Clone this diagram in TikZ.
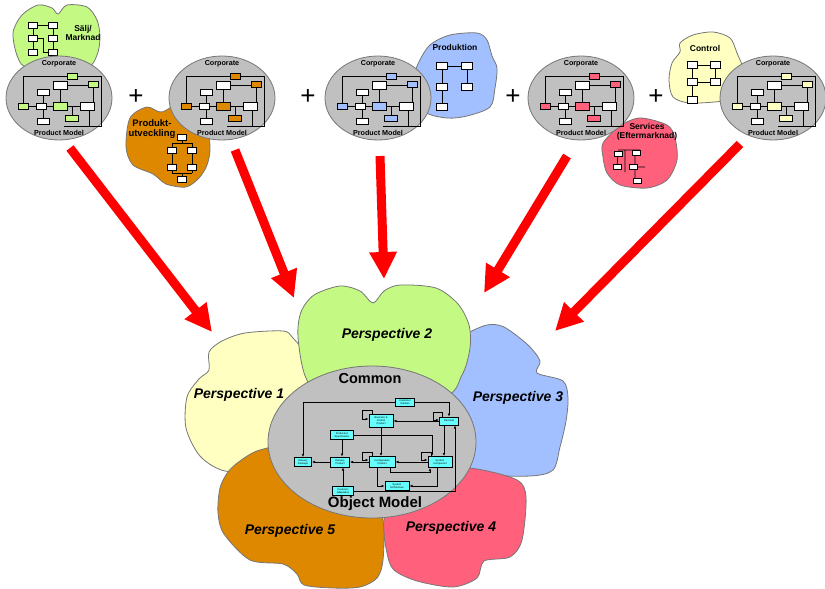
\documentclass[tikz,border=0pt]{standalone}
\usepackage{fontspec}
\setmainfont{Liberation Sans}
\usetikzlibrary{shapes.geometric,arrows.meta,calc,shadows}

\definecolor{silv}{RGB}{192,192,192}
\definecolor{rimgrey}{RGB}{118,118,118}
\definecolor{lgreen}{RGB}{196,250,132}
\definecolor{lyellow}{RGB}{255,255,194}
\definecolor{lblue}{RGB}{162,192,255}
\definecolor{lpink}{RGB}{255,96,124}
\definecolor{lorange}{RGB}{222,136,0}
\definecolor{aqua}{RGB}{102,255,255}

\tikzset{
  rim/.style={draw=rimgrey, line width=0.8pt},
  corpell/.style={ellipse, rim, fill=silv, minimum width=106pt, minimum height=84pt, inner sep=0pt},
  corplabel/.style={font=\bfseries\fontsize{7.2}{8}\selectfont, inner sep=0pt},
  bloblabel/.style={font=\bfseries\fontsize{8.5}{9.6}\selectfont, inner sep=0pt, align=center},
  perslabel/.style={font=\bfseries\itshape\fontsize{14}{16}\selectfont, inner sep=0pt},
  biglabel/.style={font=\bfseries\fontsize{14.5}{16}\selectfont, inner sep=0pt},
  minibox/.style={draw=black, line width=0.5pt, fill=white, minimum width=10pt, minimum height=5.5pt, inner sep=0pt},
  miniline/.style={draw=black, line width=0.7pt},
  bigarrow/.style={draw=red, line width=9pt, -{Triangle[length=27pt,width=26pt]}},
  plussign/.style={font=\fontsize{26}{26}\selectfont, inner sep=0pt},
  cbox/.style={draw=black, line width=1pt, fill=aqua, inner sep=0.4pt, align=center,
    font=\fontsize{2.6}{3}\selectfont,
    drop shadow={shadow xshift=0.9pt, shadow yshift=-0.9pt, fill=black, opacity=1}},
  conn/.style={draw=black, line width=0.9pt, -{Latex[length=3pt,width=2.6pt]}}
}

% grey "Corporate / Product Model" ellipse with its small model drawing
\newcommand\corpmodel[4]{%
  \begin{scope}[shift={(#2,#3)}]
    \node[corpell] (#1) at (0,0) {};
    \node[corplabel] (#1-top) at (0,-34) {Corporate};
    \node[corplabel] (#1-bot) at (0,35) {Product Model};
    \draw[miniline] (-36,8) |- (42,-22) |- (5,28);
    \draw[miniline] (-36,8) -- (28,8);
    \draw[miniline] (1,-13) -- (1,8) (-16,-6) -- (-16,23) (34,-14) -- (34,8)
                    (13,20) -- (13,8) (1,-13) -- (34,-13) (30,8) -- (30,28);
    \node[minibox, fill=#4] at (13,-22) {};
    \node[minibox, minimum width=14pt, minimum height=8pt] at (1,-13) {};
    \node[minibox, fill=#4] at (34,-14) {};
    \node[minibox, minimum width=12pt] at (-16,-6) {};
    \node[minibox, fill=#4] at (-36,8) {};
    \node[minibox] at (-18,8) {};
    \node[minibox, fill=#4, minimum width=14pt, minimum height=8pt] at (1,8) {};
    \node[minibox, minimum width=14pt, minimum height=8pt] at (28,8) {};
    \node[minibox, minimum width=12pt] at (-16,23) {};
    \node[minibox, fill=#4, minimum width=13pt] at (13,20) {};
  \end{scope}}

\begin{document}
\begin{tikzpicture}[x=1pt, y=-1pt]
\useasboundingbox (0,0) rectangle (825,589);

% ---------------- top row: department blobs ----------------
\filldraw[rim, fill=lgreen] plot[smooth cycle, tension=0.5] coordinates
  {(13,33) (22,15) (38,5) (52,8) (58,14) (67,5) (87,7) (97,20) (100,37) (97,55) (85,68) (30,68) (18,58)};
\node[bloblabel] (saljtxt) at (83,33) {Sälj/\\Marknad};
\draw[miniline] (33,25) -- (53,25) (33,25) -- (33,52) (53,25) -- (53,52) (33,38) -- (43,38) -- (43,52) -- (53,52);
\foreach \p in {(33,25),(53,25),(33,38),(53,38),(33,52),(53,52)} \node[minibox, minimum width=9pt] at \p {};

\filldraw[rim, fill=lorange] plot[smooth cycle, tension=0.5] coordinates
  {(130,118) (147,107) (162,112) (185,100) (205,112) (210,147) (207,165) (199,178) (186,187) (166,184) (153,174) (133,165) (126,147)};
\node[bloblabel, font=\bfseries\fontsize{9.5}{10.5}\selectfont] (produtxt) at (152,129) {Produkt-\\utveckling};
\draw[miniline] (182,137) -- (182,143) (172,143) -- (192,143) (172,143) -- (172,173) (192,143) -- (192,173) (172,173) -- (192,173) (182,173) -- (182,178);
\foreach \p in {(182,137),(172,150),(192,150),(172,167),(192,167),(182,179)} \node[minibox, minimum width=9pt] at \p {};

\filldraw[rim, fill=lblue] plot[smooth cycle, tension=0.5] coordinates
  {(418,64) (430,45) (450,35) (477,33) (487,40) (492,56) (497,68) (495,88) (490,107) (467,116) (447,118) (425,112) (410,90)};
\node[bloblabel] (prodtxt) at (455,47) {Produktion};
\draw[miniline] (442,66) -- (467,66) (442,66) -- (442,107) (467,66) -- (467,87);
\foreach \p in {(442,66),(467,66),(442,87),(467,87),(442,107)} \node[minibox, minimum width=11pt, minimum height=7pt] at \p {};

\filldraw[rim, fill=lpink] plot[smooth cycle, tension=0.5] coordinates
  {(603,143) (620,126) (640,118) (667,125) (675,138) (677,160) (667,180) (647,188) (620,185) (607,173) (603,157)};
\node[bloblabel] (servtxt) at (647,132) {Services\\(Eftermarknad)};
\draw[miniline] (618,150) -- (640,150) (618,153) -- (617,167) (635,150) -- (635,180) (625,150) -- (625,172) (633,167) -- (645,167);
\foreach \p in {(618,154),(636,153),(617,167),(633,167),(637,181)} \node[minibox, minimum width=8pt, minimum height=5pt] at \p {};

\filldraw[rim, fill=lyellow] plot[smooth cycle, tension=0.5] coordinates
  {(672,63) (680,52) (680,43) (693,35) (713,32) (730,38) (737,53) (745,75) (740,95) (723,101) (690,103) (673,97) (669,80)};
\node[bloblabel] (ctrltxt) at (705,48) {Control};
\draw[miniline] (692,65) -- (715,65) (692,65) -- (692,100) (715,65) -- (715,82) (692,82) -- (715,82);
\foreach \p in {(692,65),(715,65),(692,82),(715,82),(692,100)} \node[minibox, minimum width=10pt, minimum height=7pt] at \p {};

% ---------------- top row: corporate product models ----------------
\corpmodel{cm1}{59}{98}{lgreen}
\corpmodel{cm2}{222}{98}{lorange}
\corpmodel{cm3}{378}{98}{lblue}
\corpmodel{cm4}{581}{98}{lpink}
\corpmodel{cm5}{773}{98}{lyellow}

\node[plussign] (plus1) at (136,97) {+};
\node[plussign] (plus2) at (308,97) {+};
\node[plussign] (plus3) at (513,97) {+};
\node[plussign] (plus4) at (656,97) {+};

% ---------------- bottom: perspectives around the common model ----------------
\filldraw[rim, fill=lblue] plot[smooth cycle, tension=0.5] coordinates
  {(466,334) (487,325) (504,327) (528,345) (540,361) (537,373) (563,381) (568,398) (566,421) (560,447) (553,470) (530,476) (480,474) (452,460) (440,400) (450,345)};
\filldraw[rim, fill=lyellow] plot[smooth cycle, tension=0.5] coordinates
  {(209,352) (222,341) (245,333) (283,331) (293,338) (312,362) (330,400) (330,460) (270,471) (225,471) (200,456) (186,428) (187,397) (199,379) (209,370)};
\filldraw[rim, fill=lgreen] plot[smooth cycle, tension=0.5] coordinates
  {(298,337) (301,312) (314,295) (340,286) (360,291) (373,303) (384,291) (400,285) (436,288) (458,304) (469,325) (470,348) (462,375) (440,398) (330,400) (306,378)};
\filldraw[rim, fill=lpink] plot[smooth cycle, tension=0.5] coordinates
  {(400,475) (384,520) (387,553) (394,570) (417,581) (453,587) (477,578) (484,561) (510,557) (522,540) (526,497) (517,480) (477,469) (430,466)};
\filldraw[rim, fill=lorange] plot[smooth cycle, tension=0.5] coordinates
  {(240,461) (228,472) (220,488) (218,513) (224,534) (250,560) (283,564) (297,574) (304,585) (333,588) (360,587) (377,578) (383,560) (383,520) (370,470) (300,445) (260,450)};

\node[perslabel] (p1) at (239,395) {Perspective 1};
\node[perslabel] (p2) at (387,335) {Perspective 2};
\node[perslabel] (p3) at (518,398) {Perspective 3};
\node[perslabel] (p4) at (451,528) {Perspective 4};
\node[perslabel] (p5) at (290,531) {Perspective 5};

\node[ellipse, rim, fill=silv, minimum width=208pt, minimum height=152pt, inner sep=0pt] (common) at (372,442) {};
\node[biglabel] (commontxt) at (370,379) {Common};
\node[biglabel, font=\bfseries\fontsize{15}{16}\selectfont] (objtxt) at (375,504) {Object Model};

% common object model
\node[cbox, minimum width=19pt, minimum height=8pt] (cs) at (405,402) {Customer\\Solution};
\node[cbox, minimum width=24pt, minimum height=13pt] (bcp) at (381,421) {Business \&\\Control\\Product};
\node[cbox, minimum width=19pt, minimum height=8pt] (dem) at (449,421) {Demand};
\node[cbox, minimum width=23pt, minimum height=9pt] (ps) at (342,435) {Production\\Specification};
\node[cbox, minimum width=17pt, minimum height=9pt] (dpk) at (303,462) {Delivery\\Package};
\node[cbox, minimum width=19pt, minimum height=10pt] (dpr) at (340,462) {Delivery\\Product};
\node[cbox, minimum width=26pt, minimum height=11pt] (cp) at (382,462) {Configuration\\Product};
\node[cbox, minimum width=24pt, minimum height=11pt] (sc) at (440,462) {System\\Component};
\node[cbox, minimum width=24pt, minimum height=9pt] (sa) at (397,486) {System\\Architecture};
\node[cbox, minimum width=21pt, minimum height=9pt] (ca) at (343,491) {Customer\\Adaptation};

\coordinate (dd) at ($(dem.south)+(-5,0)$);
\coordinate (de) at ($(dem.south)+(6,0)$);
\coordinate (pt) at ($(sc.north)+(-8,0)$);
\coordinate (cq) at ($(cp.south)+(-5,0)$);
\coordinate (cr) at ($(cp.south)+(8,0)$);
\coordinate (sq) at ($(sc.south)+(-3,0)$);
\coordinate (sr) at ($(sc.south)+(-10,0)$);

\draw[conn] (cs.west) -| (dpk.north);
\draw[conn] (cs.east) -| (dem.north);
\draw[conn] (dem.west) -- (dem.west -| bcp.east);
\draw[conn] (bcp.south) -- (bcp.south |- cp.north);
\draw[conn] (ps.east) -| (pt);
\draw[conn] (dd) -- (dd |- sc.north);
\draw[conn] (ca.east) -| (de);
\draw[conn] (sc.west) -- (sc.west -| cp.east);
\draw[conn] (cp.west) -- (cp.west -| dpr.east);
\draw[conn] (dpr.west) -- (dpr.west -| dpk.east);
\draw[conn] (ps.south) -- (ps.south |- dpr.north);
\draw[conn] (ca.north) -- (ca.north |- dpr.south);
\draw[conn] (cq) |- (sa.west);
\draw[conn] (sq) |- (sa.east);
\draw[conn] (cr) -- ++(0,4) -| (sr);
\draw[conn] ($(bcp.north west)+(4,0)$) |- ($(bcp.north west)+(-6,-4)$) |- ($(bcp.west)+(0,-2)$);
\draw[conn] ($(cp.north west)+(4,0)$) |- ($(cp.north west)+(-6,-4)$) |- ($(cp.west)+(0,-2)$);
\draw[conn] ($(sc.north west)+(4,0)$) |- ($(sc.north west)+(-6,-4)$) |- ($(sc.west)+(0,-2)$);
\draw[conn] ($(dem.north west)+(3,0)$) |- ($(dem.north west)+(-6,-4)$) |- ($(dem.west)+(0,-1)$);

% ---------------- red arrows into the common model ----------------
\coordinate (a1s) at (70,148);  \coordinate (a1e) at (212,332);
\coordinate (a2s) at (235,150); \coordinate (a2e) at (294,298);
\coordinate (a3s) at (380,156); \coordinate (a3e) at (384,279);
\coordinate (a4s) at (567,156); \coordinate (a4e) at (484,293);
\coordinate (a5s) at (740,144); \coordinate (a5e) at (555,331);
\draw[bigarrow] (a1s) -- (a1e);
\draw[bigarrow] (a2s) -- (a2e);
\draw[bigarrow] (a3s) -- (a3e);
\draw[bigarrow] (a4s) -- (a4e);
\draw[bigarrow] (a5s) -- (a5e);
\end{tikzpicture}
\end{document}
